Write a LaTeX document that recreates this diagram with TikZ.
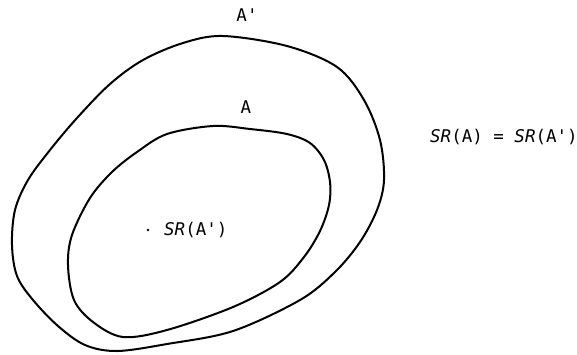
\documentclass[tikz,border=0pt]{standalone}
\usepackage{fontspec}
\setmonofont{DejaVu Sans Mono}
\usepackage{tikz}
\usetikzlibrary{positioning}
\tikzset{
  region/.style={line width=2pt, line join=round},
  setlabel/.style={font=\fontsize{17.5}{20}\selectfont\ttfamily, inner sep=1pt}
}
\newcommand{\sr}{\textit{SR}}

\begin{document}
\begin{tikzpicture}[x=1pt, y=-1pt]
% Frame: one unit per pixel of the reference, y runs downward.
\useasboundingbox (0,0) rectangle (577,354);
% Outer region A': hand-drawn closed curve through traced points
\draw[region] plot[smooth cycle, tension=0.55] coordinates {
  (223,36) (287,46) (337,67) (364,100) (380,140) (384,180)
  (377,210) (360,242) (335,272) (300,300) (233,331)
  (167,344) (117,351) (85,345) (58,326) (33,300) (17,276)
  (12,245) (15,210) (28,180) (50,150) (77,118) (110,84)
  (143,60) (183,43)};
% Inner region A, nested in A'
\draw[region] plot[smooth cycle, tension=0.55] coordinates {
  (213,126) (250,129) (287,134) (310,143) (324,160) (330,182)
  (329,205) (320,231) (304,257) (280,282) (233,307) (167,330)
  (123,337) (93,322) (74,300) (68,265) (72,235) (90,198)
  (112,172) (137,152) (167,134)};
% Region names above each curve
\node[setlabel] (outerlbl) at (247,15) {A'};
\node[setlabel] (innerlbl) at (246,107) {A};
% The point SR(A') inside A
\fill (148,230) circle (1.3pt) coordinate (srpt);
\node[setlabel, anchor=west] (srlbl) at (163,230) {\sr(A')};
% The equality off to the right
\node[setlabel, anchor=west] (eqlbl) at (429,137) {\sr(A) = \sr(A')};
\end{tikzpicture}
\end{document}
